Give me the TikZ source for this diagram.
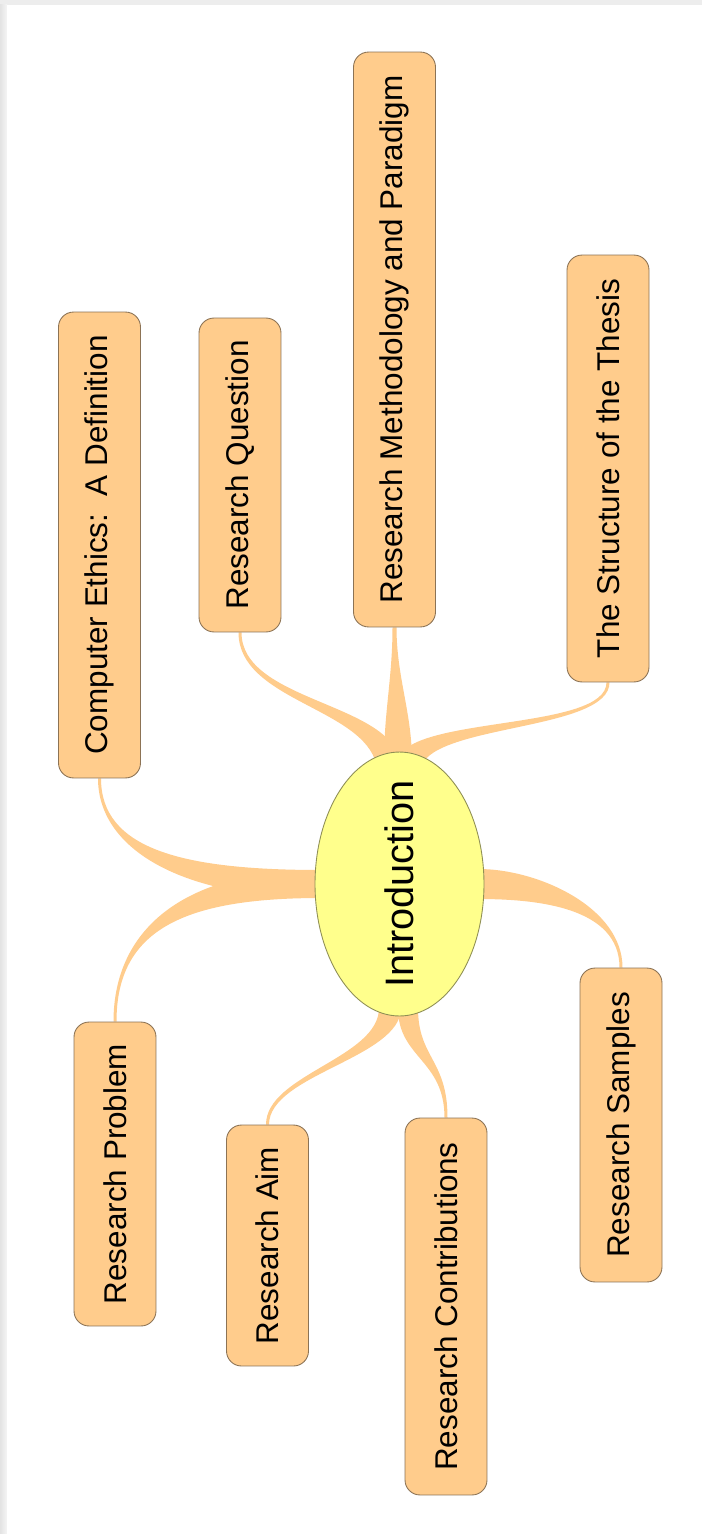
\documentclass[tikz,border=0pt]{standalone}
\usepackage{fontspec}
\setmainfont{Liberation Sans}
\usepackage{graphicx}
\usetikzlibrary{calc,shapes.geometric,backgrounds}

\definecolor{boxorange}{HTML}{FFCC8C}
\definecolor{boxedge}{HTML}{8C7355}
\definecolor{introyellow}{HTML}{FFFF8C}
\definecolor{introedge}{HTML}{8F8F55}

\tikzset{
  topic/.style={draw=boxedge, fill=boxorange, rounded corners=0.3cm, line width=0.5pt,
    minimum width=1.64cm, inner sep=0pt, font=\fontsize{17.9}{20}\selectfont},
  centre/.style={ellipse, draw=introedge, fill=introyellow, line width=0.5pt,
    minimum width=3.38cm, minimum height=5.28cm, inner sep=0pt, font=\fontsize{22.6}{26}\selectfont},
  branch/.style={fill=boxorange}
}

% tapered branch: from, to, c1 offset, c2 offset, half width at start, half width at end
\newcommand{\mapbranch}[6]{%
  \fill[branch] ($(#1)+(#5)$) .. controls ($(#1)+(#3)+(#5)$) and ($(#2)+(#4)+(#6)$) .. ($(#2)+(#6)$)
    -- ($(#2)-(#6)$) .. controls ($(#2)+(#4)-(#6)$) and ($(#1)+(#3)-(#5)$) .. ($(#1)-(#5)$) -- cycle;}

\begin{document}
\begin{tikzpicture}[x=0.02cm, y=-0.02cm]
  \useasboundingbox (0,0) rectangle (702,1534);

  % centre (text kept from growing the ellipse)
  \node[centre] (intro) at (399.5,884) {\rotatebox{90}{\makebox[0pt]{Introduction}}};

  % topics, text runs bottom to top
  \node[topic, minimum height=9.32cm]  (ethics)  at (99.5,545)  {\rotatebox{90}{Computer Ethics:\ \ A Definition}};
  \node[topic, minimum height=6.28cm]  (question) at (240,475)  {\rotatebox{90}{Research Question}};
  \node[topic, minimum height=11.5cm]  (method)  at (394.5,339.5) {\rotatebox{90}{Research Methodology and Paradigm}};
  \node[topic, minimum height=8.54cm]  (thesis)  at (608,468.5) {\rotatebox{90}{The Structure of the Thesis}};
  \node[topic, minimum height=6.08cm]  (problem) at (115,1174)  {\rotatebox{90}{Research Problem}};
  \node[topic, minimum height=4.82cm]  (aim)     at (267.5,1245.5) {\rotatebox{90}{Research Aim}};
  \node[topic, minimum height=7.54cm]  (contrib) at (446,1306.5) {\rotatebox{90}{Research Contributions}};
  \node[topic, minimum height=6.28cm]  (samples) at (621,1125)  {\rotatebox{90}{Research Samples}};

  \begin{scope}[on background layer]
    % page frame
    \fill[black!7] (0,0) rectangle (702,1534);
    \shade[left color=black!11, right color=black!4] (0,5) rectangle (7,1534);
    \fill[white] (7,5) rectangle (702,1534);

    % branch roots, just inside the ellipse
    \coordinate (lroot) at ($(intro.west)+(6,0)$);
    \coordinate (rroot) at ($(intro.east)+(-6,0)$);
    \coordinate (troot1) at (388,762);
    \coordinate (troot2) at (398,762);
    \coordinate (troot3) at (410,762);
    \coordinate (broot1) at (390,1008);
    \coordinate (broot2) at (408,1008);

    % left
    \mapbranch{lroot}{ethics.south}{-140,0}{0,70}{0,-14}{1.5,0}
    \mapbranch{lroot}{problem.north}{-140,0}{0,-90}{0,14}{1.5,0}
    % top
    \mapbranch{troot1}{question.south}{-13,-57}{0,68}{11.6,-2.7}{1.5,0}
    \mapbranch{troot2}{method.south}{0,-50}{0,50}{14,0}{2,0}
    \mapbranch{troot3}{thesis.south}{15,-42}{0,48}{11.3,4.1}{1.5,0}
    % bottom
    \mapbranch{broot1}{aim.north}{0,50}{0,-50}{-11,0}{-1.5,0}
    \mapbranch{broot2}{contrib.north}{0,50}{0,-58}{-10,0}{-1.5,0}
    % right
    \mapbranch{rroot}{samples.north}{60,0}{0,-60}{0,15}{-1.5,0}
  \end{scope}
\end{tikzpicture}
\end{document}
